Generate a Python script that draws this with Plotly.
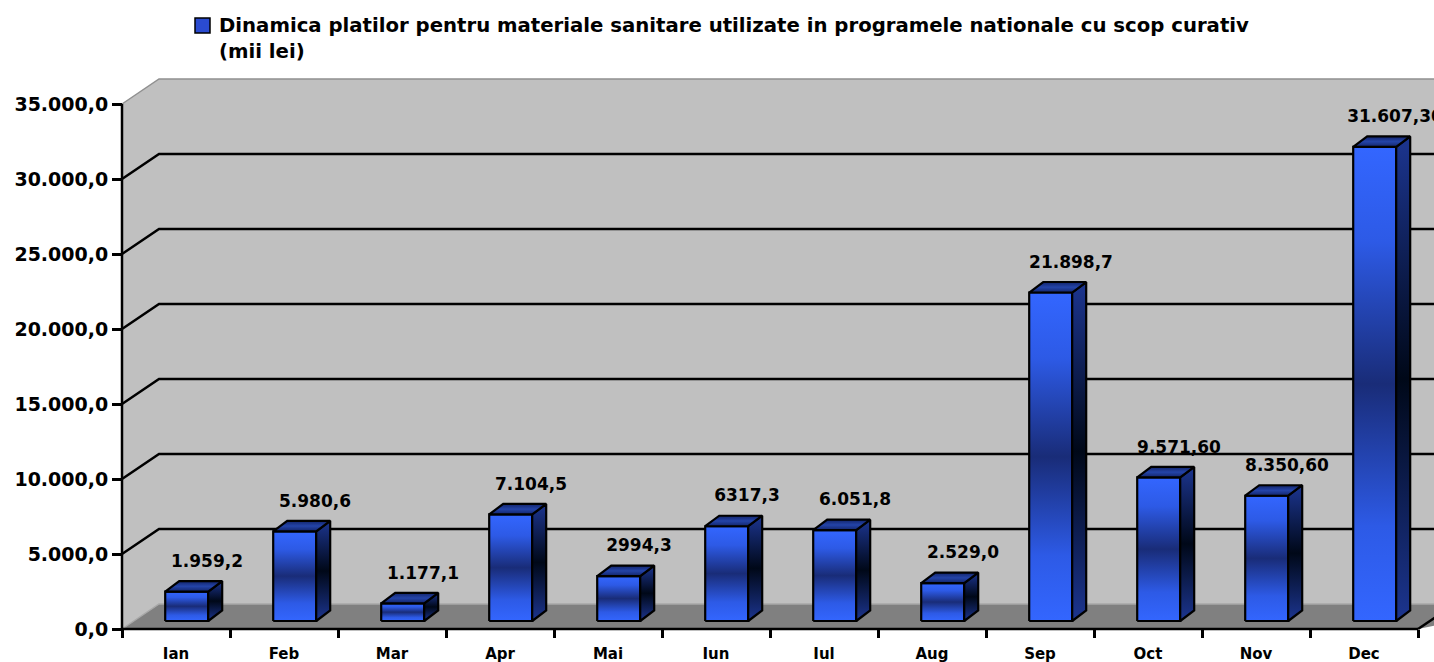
import plotly.graph_objects as go

MONTHS = ["Ian", "Feb", "Mar", "Apr", "Mai", "Iun", "Iul", "Aug", "Sep", "Oct", "Nov", "Dec"]
VALUES = [1959.2, 5980.6, 1177.1, 7104.5, 2994.3, 6317.3, 6051.8, 2529.0, 21898.7, 9571.6, 8350.6, 31607.3]
LABELS = ["1.959,2", "5.980,6", "1.177,1", "7.104,5", "2994,3", "6317,3",
          "6.051,8", "2.529,0", "21.898,7", "9.571,60", "8.350,60", "31.607,30"]
Y_TICKS = [0, 5000, 10000, 15000, 20000, 25000, 30000, 35000]
Y_TICK_TEXT = ["0,0", "5.000,0", "10.000,0", "15.000,0", "20.000,0", "25.000,0", "30.000,0", "35.000,0"]
TITLE = ("Dinamica platilor pentru materiale sanitare utilizate in programele nationale cu scop curativ"
         "<br>(mii lei)")

W, H = 1434, 662
FONT = "DejaVu Sans"

# front plane of the fake-3D box, in pixels
X0_PX, CAT_PX = 122, 108
Y0_PX, UNIT_PX = 629, 525 / 35000


def dx(px):
    return px / CAT_PX


def dy(px):
    return px / UNIT_PX


X_RANGE = [-0.5 - dx(X0_PX), -0.5 + dx(W - X0_PX)]
Y_RANGE = [-dy(H - Y0_PX), dy(Y0_PX)]

WALL = (dx(37), dy(25))        # depth of the back wall
BAR_SHIFT = (dx(10.7), dy(8))  # front face of the bars
BAR_DEPTH = (dx(14), dy(10.5))
BAR_W = dx(43)

FRONT_SCALE = [[0, "#3366ff"], [0.2, "#2d5ae6"], [0.5, "#192c78"], [0.8, "#2d5ae6"], [1, "#3366ff"]]
SIDE_SCALE = [[0, "#1c3590"], [0.5, "#000818"], [1, "#1c3590"]]
TOP_SCALE = [[0, "#12246a"], [0.5, "#2444a8"], [1, "#12246a"]]

left, right = -0.5, len(MONTHS) - 0.5
far = X_RANGE[1] + 1
top = Y_TICKS[-1]
wx, wy = WALL


def path(points):
    return "M " + " L ".join(f"{x},{y}" for x, y in points) + " Z"


def line_path(points):
    return "M " + " L ".join(f"{x},{y}" for x, y in points)


shapes = [
    # back wall
    dict(type="path", path=path([(left + wx, wy), (left + wx, top + wy), (far, top + wy), (far, wy)]),
         fillcolor="#c0c0c0", line=dict(width=0), layer="below"),
    # side wall
    dict(type="path", path=path([(left, 0), (left, top), (left + wx, top + wy), (left + wx, wy)]),
         fillcolor="#c0c0c0", line=dict(width=0), layer="below"),
    # floor
    dict(type="path", path=path([(left, 0), (left + wx, wy), (far, wy), (right, 0)]),
         fillcolor="#808080", line=dict(width=0), layer="below"),
    dict(type="path", path=line_path([(left, 0), (left + wx, wy), (far, wy)]),
         line=dict(color="#a8a8a8", width=1.5), layer="below"),
    dict(type="path", path=line_path([(left, top), (left + wx, top + wy), (far, top + wy)]),
         line=dict(color="#909090", width=1.5), layer="below"),
]
for t in Y_TICKS[1:-1]:
    shapes.append(dict(type="path", path=line_path([(left, t), (left + wx, t + wy), (far, t + wy)]),
                       line=dict(color="black", width=2.5), layer="below"))
# front edges
shapes += [
    dict(type="line", x0=left, x1=left, y0=0, y1=top, line=dict(color="black", width=2.5)),
    dict(type="line", x0=left, x1=right, y0=0, y1=0, line=dict(color="black", width=2.5)),
    dict(type="line", x0=right, x1=right + wx, y0=0, y1=wy, line=dict(color="black", width=2.5)),
]
# legend key
shapes.append(dict(type="rect", xref="paper", yref="paper",
                   x0=195 / W, x1=210 / W, y0=1 - 33 / H, y1=1 - 18 / H,
                   fillcolor="#2a4bd0", line=dict(color="black", width=1.5)))

fig = go.Figure()
ddx, ddy = BAR_DEPTH
for i, v in enumerate(VALUES):
    x0 = i + BAR_SHIFT[0] - BAR_W / 2
    x1 = x0 + BAR_W
    yb = BAR_SHIFT[1]
    yt = v + yb
    faces = [
        ([x0, x1, x1, x0, x0], [yb, yb, yt, yt, yb], FRONT_SCALE),
        ([x1, x1 + ddx, x1 + ddx, x1, x1], [yb, yb + ddy, yt + ddy, yt, yb], SIDE_SCALE),
        ([x0, x1, x1 + ddx, x0 + ddx, x0], [yt, yt, yt + ddy, yt + ddy, yt], TOP_SCALE),
    ]
    for fx, fy, scale in faces:
        fig.add_trace(go.Scatter(
            x=fx, y=fy, mode="lines", fill="toself",
            fillgradient=dict(type="vertical", colorscale=scale),
            line=dict(color="black", width=2.2),
            hoverinfo="skip", showlegend=False,
        ))

fig.add_trace(go.Scatter(
    x=[i + dx(31) for i in range(len(VALUES))],
    y=[v + dy(37) for v in VALUES],
    text=LABELS, mode="text", textposition="middle center",
    textfont=dict(family=FONT, size=17, color="black", weight="bold"),
    cliponaxis=False, hoverinfo="skip", showlegend=False,
))

fig.update_layout(
    width=W, height=H,
    margin=dict(l=0, r=0, t=0, b=0),
    paper_bgcolor="white", plot_bgcolor="white",
    font=dict(family=FONT, color="black"),
    shapes=shapes,
    showlegend=False,
    annotations=[dict(
        text=TITLE, xref="paper", yref="paper", x=217 / W, y=1 - 12 / H,
        xanchor="left", yanchor="top", align="left", showarrow=False,
        font=dict(family=FONT, size=19.7, color="black", weight="bold"),
    )],
    xaxis=dict(
        range=X_RANGE, domain=[0, 1], anchor="free", position=(H - Y0_PX) / H,
        tickmode="array", tickvals=list(range(len(MONTHS))), ticktext=MONTHS,
        ticks="", ticklabelstandoff=14,
        tickfont=dict(family=FONT, size=15, color="black", weight="bold"),
        minor=dict(tickmode="array", tickvals=[i - 0.5 for i in range(len(MONTHS) + 1)],
                   ticks="outside", ticklen=8, tickwidth=2.5, tickcolor="black"),
        showgrid=False, zeroline=False, showline=False, fixedrange=True,
    ),
    yaxis=dict(
        range=Y_RANGE, domain=[0, 1], anchor="free", position=X0_PX / W,
        tickmode="array", tickvals=Y_TICKS, ticktext=Y_TICK_TEXT,
        ticks="outside", ticklen=10, tickwidth=2.5, tickcolor="black",
        tickfont=dict(family=FONT, size=19, color="black", weight="bold"),
        showgrid=False, zeroline=False, showline=False, fixedrange=True,
    ),
)

# the page's default body margin would push the 1434x662 figure off the window
fig.write_html("out.html", config={"displayModeBar": False},
               post_script="document.body.style.margin = '0';")
